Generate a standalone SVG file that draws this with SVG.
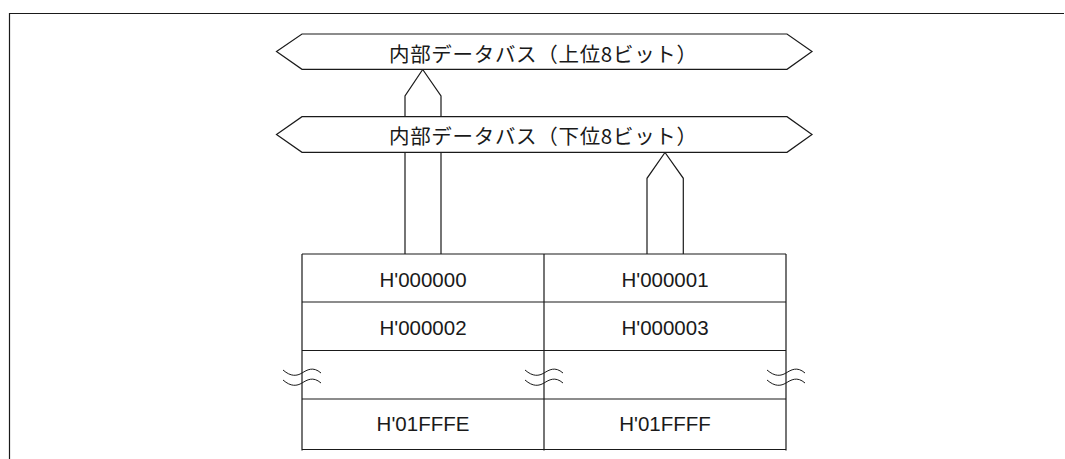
<svg xmlns="http://www.w3.org/2000/svg" width="1065" height="459" viewBox="0 0 1065 459">
<style>
.ln{fill:none;stroke:#1a1a1a;stroke-width:1.2}
.bus{fill:#fff;stroke:#1a1a1a;stroke-width:1.2}
.jp{font-family:"Noto Sans CJK JP","Noto Sans",sans-serif;font-size:20.5px;fill:#1a1a1a}
.hx{font-family:"Liberation Sans",Arial,sans-serif;font-size:20.5px;fill:#1a1a1a;text-anchor:middle}
.wv{fill:none;stroke:#1a1a1a;stroke-width:1}
</style>
<rect width="1065" height="459" fill="#fff"/>
<g id="frame">
<path class="ln" d="M9,13.5H1064M9.5,13V459" stroke-width="1.6"/>
</g>
<g id="connectors">
<path class="ln" d="M405,116.7V96L422.7,69.5L441,96V116.7"/>
<path class="ln" d="M405,152.3V254M441,152.3V254"/>
<path class="ln" d="M647,254V178.3L665,152.5L683.3,178.3V254"/>
</g>
<g id="bus-upper">
<polygon class="bus" points="302,34 787,34 812,51.5 787,69.3 302,69.3 276.5,51.5"/>
<text class="jp" x="389" y="61.5" textLength="308" lengthAdjust="spacing">内部データバス（上位8ビット）</text>
</g>
<g id="bus-lower">
<polygon class="bus" points="302,116.7 787,116.7 812,134.5 787,152.3 302,152.3 276.5,134.5"/>
<text class="jp" x="389" y="143.5" textLength="308" lengthAdjust="spacing">内部データバス（下位8ビット）</text>
</g>
<g id="memory">
<path class="ln" d="M302,254V450.5M544,254V450.5M786,254V450.5"/>
<path class="ln" d="M302,254H786M302,302H786M302,350.5H786M302,399H786M302,449.5H786"/>
</g>
<g id="cell-000000"><text class="hx" x="423" y="286.7">H'000000</text></g>
<g id="cell-000001"><text class="hx" x="665" y="286.7">H'000001</text></g>
<g id="cell-000002"><text class="hx" x="423" y="334.7">H'000002</text></g>
<g id="cell-000003"><text class="hx" x="665" y="334.7">H'000003</text></g>
<g id="cell-01FFFE"><text class="hx" x="423" y="430.7">H'01FFFE</text></g>
<g id="cell-01FFFF"><text class="hx" x="665" y="430.7">H'01FFFF</text></g>
<g id="breaks">
<defs>
<path id="wave" d="M-19,-1 C-11,6 -5,5 0,2 C5,-1 11,-5 19,2 M-19,9 C-11,16 -5,15 0,12 C5,9 11,5 19,12"/>
</defs>
<use href="#wave" class="wv" x="302" y="371"/>
<use href="#wave" class="wv" x="544" y="371"/>
<use href="#wave" class="wv" x="786" y="371"/>
</g>
</svg>
